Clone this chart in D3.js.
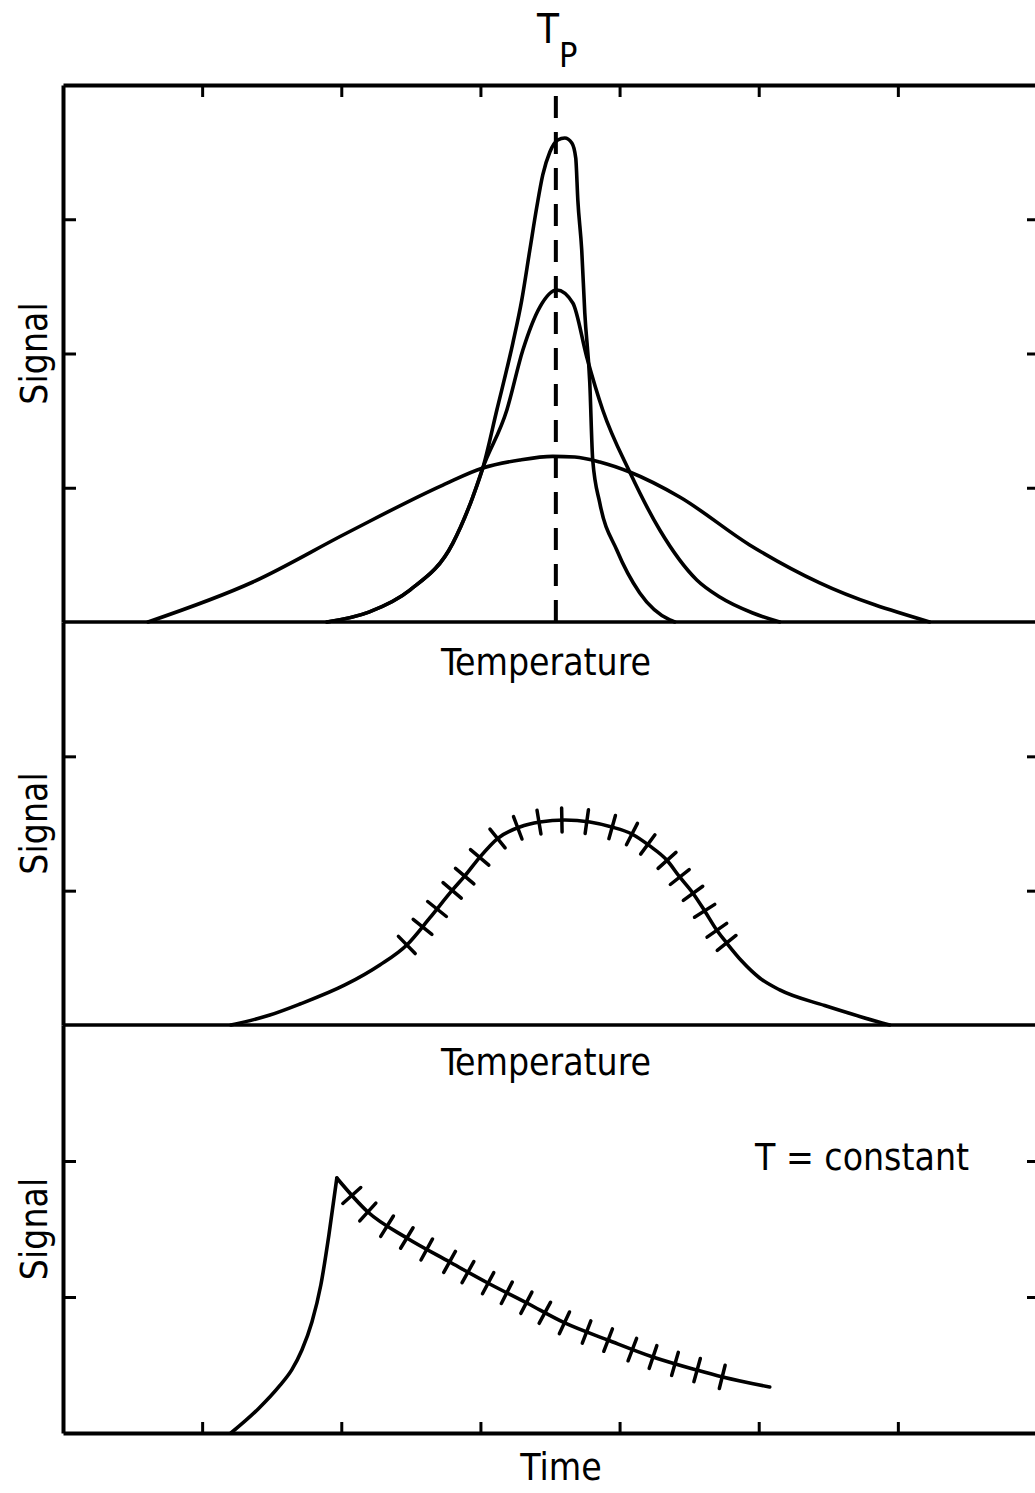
<!DOCTYPE html>
<html>
<head>
<meta charset="utf-8">
<script src="https://cdn.jsdelivr.net/npm/d3@7"></script>
<style>
  body { margin: 0; background: #fff; }
  text { font-family: "DejaVu Sans Condensed", "DejaVu Sans", sans-serif; font-stretch: condensed; fill: #000; }
</style>
</head>
<body>
<div id="chart"></div>
<script>
// tick positions (shared x axis, one y scale per panel)
const xTicks = [1, 2, 3, 4, 5, 6];
const yTicksTop = [1, 2, 3];
const yTicksMid = [1, 2];
const yTicksBot = [1, 2];

// peak temperature marker
const tpX = 3.542;

// top panel: three desorption curves [temperature, signal]
const wideCurve = [[0.611,0],[1.365,0.298],[2.040,0.663],[2.730,1.020],[3.017,1.147],
  [3.283,1.207],[3.520,1.234],[3.678,1.229],[3.858,1.192],[4.073,1.117],[4.432,0.931],
  [4.935,0.574],[5.438,0.291],[6.228,0]];
const mediumCurve = [[1.897,0],[2.198,0.074],[2.493,0.238],[2.802,0.588],[2.945,0.931],[3.017,1.147],
  [3.190,1.579],[3.305,2.026],[3.427,2.346],[3.549,2.473],[3.664,2.376],[3.764,1.974],
  [3.879,1.579],[4.073,1.117],[4.289,0.685],[4.555,0.313],[4.720,0.186],[4.957,0.067],[5.151,0]];
const tallCurve = [[1.897,0],[2.198,0.074],[2.493,0.238],[2.802,0.588],[2.945,0.931],[3.017,1.147],
  [3.118,1.579],[3.233,2.078],[3.297,2.398],[3.355,2.771],[3.405,3.091],[3.448,3.330],
  [3.499,3.501],[3.556,3.590],[3.606,3.605],[3.657,3.568],[3.685,3.456],[3.700,3.143],
  [3.728,2.771],[3.750,2.302],[3.786,1.780],[3.807,1.207],[3.858,0.886],[3.980,0.536],
  [4.145,0.216],[4.361,0.015],[4.397,0]];

// middle panel: curve and the temperatures of its measurement marks
const midCurve = [[1.207,0],[1.487,0.074],[1.703,0.156],[2.026,0.298],[2.277,0.447],[2.471,0.596],
  [2.636,0.797],[2.795,1.000],[2.888,1.110],[2.996,1.250],[3.125,1.390],[3.283,1.474],
  [3.427,1.511],[3.606,1.526],[3.786,1.511],[3.944,1.474],[4.088,1.422],[4.217,1.333],
  [4.339,1.228],[4.432,1.102],[4.526,0.983],[4.612,0.849],[4.698,0.707],[4.770,0.610],
  [4.878,0.476],[5.007,0.350],[5.151,0.261],[5.474,0.145],[5.726,0.064],[5.941,0]];
const midMarks = [2.471,2.586,2.687,2.795,2.888,2.996,3.125,3.269,3.420,3.585,3.764,3.944,
  4.088,4.203,4.339,4.432,4.526,4.612,4.698,4.770];

// bottom panel: rise, then isothermal decay with marks
const riseCurve = [[1.207,0],[1.401,0.175],[1.559,0.350],[1.645,0.466],[1.717,0.610],
  [1.789,0.816],[1.853,1.088],[1.911,1.456],[1.968,1.875]];
const decayCurve = [[1.968,1.875],[2.191,1.625],[2.471,1.434],[2.780,1.257],[3.053,1.103],[3.333,0.956],
  [3.606,0.809],[3.915,0.684],[4.239,0.559],[4.555,0.463],[4.741,0.412],[5.079,0.338]];
const decayMarks = [2.076,2.191,2.328,2.471,2.615,2.780,2.909,3.053,3.190,3.333,3.463,3.606,
  3.764,3.915,4.095,4.239,4.397,4.555,4.741];

const W = 1035, H = 1493;
const frameLeft = 63, frameRight = 1040;
const frameTop = 85, base1 = 622, base2 = 1025, frameBottom = 1433;

const svg = d3.select("#chart").append("svg")
    .attr("width", W)
    .attr("height", H)
    .style("background", "#fff");

const x = d3.scaleLinear().domain([0, 7]).range([frameLeft, 1037]);
const yTop = d3.scaleLinear().domain([0, 4]).range([base1, frameTop]);
const yMid = d3.scaleLinear().domain([0, 3]).range([base2, base1]);
const yBot = d3.scaleLinear().domain([0, 3]).range([frameBottom, base2]);

function styleAxis(g, w) {
  g.select(".domain").attr("stroke", "#000").attr("stroke-width", w);
  g.selectAll(".tick line").attr("stroke", "#000").attr("stroke-width", 3);
  g.selectAll(".tick text").remove();
}

// frame: top and bottom with inward ticks
svg.append("g")
    .attr("transform", `translate(0,${frameTop})`)
    .call(d3.axisBottom(x).tickValues(xTicks).tickSize(12).tickSizeOuter(0).tickFormat(""))
    .call(g => styleAxis(g, 4));
svg.append("g")
    .attr("transform", `translate(0,${frameBottom})`)
    .call(d3.axisTop(x).tickValues(xTicks).tickSize(11).tickSizeOuter(0).tickFormat(""))
    .call(g => styleAxis(g, 4));

// panel separators
[base1, base2].forEach(b => {
  svg.append("line")
    .attr("x1", frameLeft).attr("x2", frameRight)
    .attr("y1", b).attr("y2", b)
    .attr("stroke", "#000").attr("stroke-width", 3.5);
});

// left and right sides with inward ticks, one scale per panel
[[yTop, yTicksTop], [yMid, yTicksMid], [yBot, yTicksBot]].forEach(([sc, tv]) => {
  svg.append("g")
    .attr("transform", `translate(${frameLeft},0)`)
    .call(d3.axisRight(sc).tickValues(tv).tickSize(13).tickSizeOuter(0).tickFormat(""))
    .call(g => styleAxis(g, 4));
  svg.append("g")
    .attr("transform", `translate(${frameRight},0)`)
    .call(d3.axisLeft(sc).tickValues(tv).tickSize(13).tickSizeOuter(0).tickFormat(""))
    .call(g => styleAxis(g, 4));
});

const curveStyle = sel => sel
    .attr("fill", "none")
    .attr("stroke", "#000")
    .attr("stroke-width", 3.6)
    .attr("stroke-linejoin", "round")
    .attr("stroke-linecap", "round");

const lineTop = d3.line().x(d => x(d[0])).y(d => yTop(d[1])).curve(d3.curveMonotoneX);
const lineMid = d3.line().x(d => x(d[0])).y(d => yMid(d[1])).curve(d3.curveMonotoneX);
const lineBot = d3.line().x(d => x(d[0])).y(d => yBot(d[1])).curve(d3.curveMonotoneX);

// top panel
svg.append("line")
    .attr("x1", x(tpX)).attr("x2", x(tpX))
    .attr("y1", yTop(0)).attr("y2", yTop(4))
    .attr("stroke", "#000").attr("stroke-width", 4)
    .attr("stroke-dasharray", "22,14");

[wideCurve, mediumCurve, tallCurve].forEach(c => {
  svg.append("path").attr("d", lineTop(c)).call(curveStyle);
});

// perpendicular marks on a drawn curve
function addMarks(pathNode, xs, half) {
  const L = pathNode.getTotalLength();
  const pts = d3.range(0, L, 1).map(l => pathNode.getPointAtLength(l));
  xs.forEach(v => {
    const px = x(v);
    const i = d3.minIndex(pts, p => Math.abs(p.x - px));
    const a = pts[Math.max(0, i - 4)], b = pts[Math.min(pts.length - 1, i + 4)];
    const dx = b.x - a.x, dy = b.y - a.y, n = Math.hypot(dx, dy);
    const nx = -dy / n, ny = dx / n;
    const p = pts[i];
    svg.append("line")
      .attr("x1", p.x - nx * half).attr("y1", p.y - ny * half)
      .attr("x2", p.x + nx * half).attr("y2", p.y + ny * half)
      .attr("stroke", "#000").attr("stroke-width", 3.5)
      .attr("stroke-linecap", "round");
  });
}

// middle panel
const midPath = svg.append("path").attr("d", lineMid(midCurve)).call(curveStyle);
addMarks(midPath.node(), midMarks, 12);

// bottom panel
svg.append("path").attr("d", lineBot(riseCurve)).call(curveStyle);
const decayPath = svg.append("path").attr("d", lineBot(decayCurve)).call(curveStyle);
addMarks(decayPath.node(), decayMarks, 12);

// labels
const tp = svg.append("text")
    .attr("x", 537).attr("y", 43)
    .attr("font-size", 40);
tp.append("tspan").text("T");
tp.append("tspan").attr("dy", 24).attr("font-size", 34).text("P");

svg.append("text").attr("x", 546).attr("y", 675)
    .attr("text-anchor", "middle").attr("font-size", 37).text("Temperature");
svg.append("text").attr("x", 546).attr("y", 1075)
    .attr("text-anchor", "middle").attr("font-size", 37).text("Temperature");
svg.append("text").attr("x", 561).attr("y", 1480)
    .attr("text-anchor", "middle").attr("font-size", 37).text("Time");
svg.append("text").attr("x", 755).attr("y", 1170)
    .attr("font-size", 37).text("T = constant");

[(frameTop + base1) / 2, (base1 + base2) / 2, (base2 + frameBottom) / 2].forEach(cy => {
  svg.append("text")
    .attr("transform", `translate(47,${cy}) rotate(-90)`)
    .attr("text-anchor", "middle")
    .attr("font-size", 37)
    .text("Signal");
});
</script>
</body>
</html>
